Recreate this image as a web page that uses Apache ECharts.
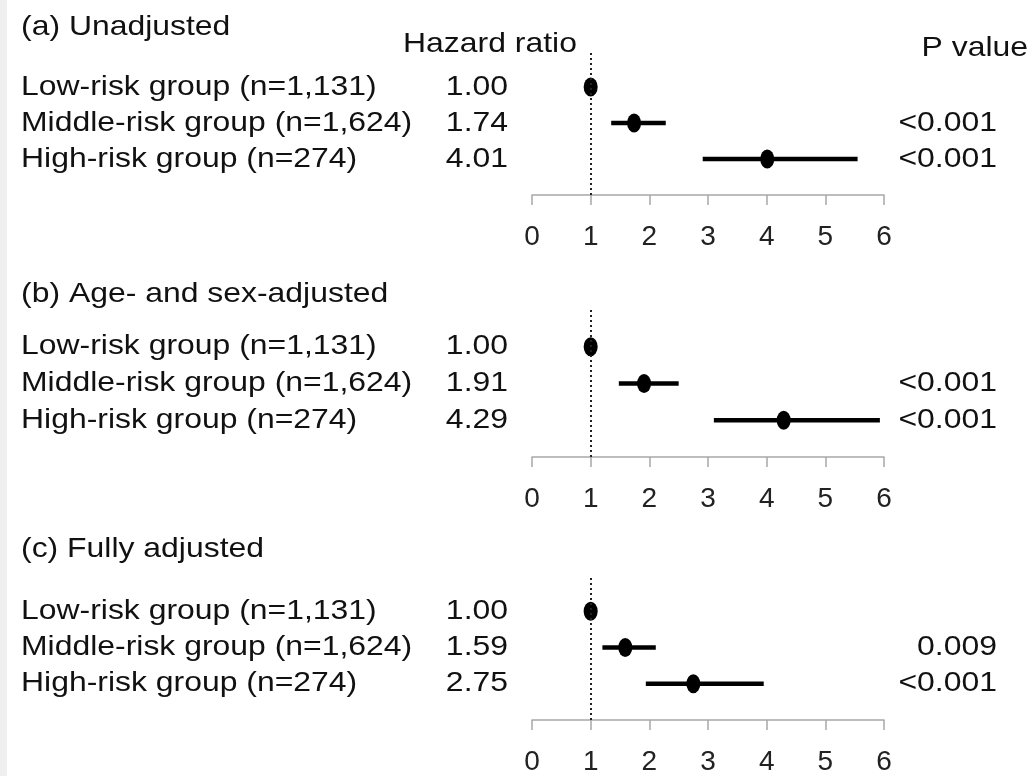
<!DOCTYPE html>
<html>
<head>
<meta charset="utf-8">
<script src="https://cdn.jsdelivr.net/npm/echarts@6/dist/echarts.min.js"></script>
<style>
  html, body { margin: 0; padding: 0; background: #ffffff; }
  #chart { width: 1035px; height: 776px; }
</style>
</head>
<body>
<div id="chart"></div>
<script>
// Risk groups shown in every panel (top to bottom)
const groupNames = ['Low-risk group (n=1,131)', 'Middle-risk group (n=1,624)', 'High-risk group (n=274)'];
const panelTitles = ['(a) Unadjusted', '(b) Age- and sex-adjusted', '(c) Fully adjusted'];
const xTicks = [0, 1, 2, 3, 4, 5, 6];

// (a) Unadjusted
const hrUnadjusted = [1.00, 1.74, 4.01];
const ciLowUnadjusted = [null, 1.35, 2.91];
const ciHighUnadjusted = [null, 2.28, 5.55];
const pUnadjusted = ['', '<0.001', '<0.001'];

// (b) Age- and sex-adjusted
const hrAgeSex = [1.00, 1.91, 4.29];
const ciLowAgeSex = [null, 1.48, 3.10];
const ciHighAgeSex = [null, 2.50, 5.93];
const pAgeSex = ['', '<0.001', '<0.001'];

// (c) Fully adjusted
const hrFull = [1.00, 1.59, 2.75];
const ciLowFull = [null, 1.20, 1.94];
const ciHighFull = [null, 2.11, 3.95];
const pFull = ['', '0.009', '<0.001'];

const panels = [
  { hr: hrUnadjusted, lo: ciLowUnadjusted, hi: ciHighUnadjusted, p: pUnadjusted },
  { hr: hrAgeSex, lo: ciLowAgeSex, hi: ciHighAgeSex, p: pAgeSex },
  { hr: hrFull, lo: ciLowFull, hi: ciHighFull, p: pFull }
];

// Layout
const panelTop = [51, 310, 575];
const panelHeight = [144, 147, 148];
const titleY = [27, 294, 549];
const nameX = 21, hrX = 508, pX = 997;
const FONT = '28px "Liberation Sans", Arial, sans-serif';
const STRETCH = 1.14;
const TEXT = '#111';

// row position on the vertical scale: first group at the top
const rowOf = k => groupNames.length - k;

const chart = echarts.init(document.getElementById('chart'), null, { renderer: 'canvas' });

const grid = [], xAxis = [], yAxis = [], series = [];

panels.forEach((pn, i) => {
  grid.push({ left: 532, width: 352, top: panelTop[i], height: panelHeight[i] });
  xAxis.push({
    gridIndex: i, type: 'value', position: 'bottom',
    min: xTicks[0], max: xTicks[xTicks.length - 1], interval: 1,
    axisLine: { show: true, onZero: false, lineStyle: { color: '#a8a8a8', width: 1.5 } },
    axisTick: { show: true, length: 10, lineStyle: { color: '#a8a8a8', width: 1.5 } },
    axisLabel: { show: true, margin: 28, color: '#222', fontSize: 28, fontFamily: '"Liberation Sans", Arial, sans-serif' },
    splitLine: { show: false }
  });
  yAxis.push({
    gridIndex: i, type: 'value', min: 0, max: 4, show: false,
    splitLine: { show: false }
  });

  // confidence intervals
  const ciData = [];
  pn.hr.forEach((v, k) => { if (pn.lo[k] != null) ciData.push([pn.lo[k], pn.hi[k], rowOf(k)]); });
  series.push({
    type: 'custom', xAxisIndex: i, yAxisIndex: i, clip: false, silent: true,
    data: ciData,
    renderItem: (params, api) => {
      const a = api.coord([api.value(0), api.value(2)]);
      const b = api.coord([api.value(1), api.value(2)]);
      return { type: 'line', shape: { x1: a[0], y1: a[1], x2: b[0], y2: b[1] },
               style: { stroke: '#000', lineWidth: 4.5 } };
    },
    z: 3
  });

  // point estimates with the reference line at HR = 1
  series.push({
    type: 'scatter', xAxisIndex: i, yAxisIndex: i, silent: true,
    data: pn.hr.map((v, k) => [v, rowOf(k)]),
    symbol: 'circle', symbolSize: [14, 19],
    itemStyle: { color: '#000', opacity: 1 },
    markLine: {
      silent: true, symbol: 'none', label: { show: false },
      lineStyle: { type: [2, 3], color: '#222', width: 2 },
      data: [{ xAxis: 1 }]
    },
    z: 4
  });

  // row labels: group name, hazard ratio and P value
  series.push({
    type: 'custom', xAxisIndex: i, yAxisIndex: i, clip: false, silent: true,
    data: pn.hr.map((v, k) => [0, rowOf(k), k]),
    renderItem: (params, api) => {
      const k = api.value(2);
      const y = api.coord([0, api.value(1)])[1];
      const mk = (x, text, align) => ({
        type: 'text', x: x, y: y, scaleX: STRETCH,
        style: { text: text, font: FONT, fill: TEXT, align: align, verticalAlign: 'middle' }
      });
      return { type: 'group', children: [
        mk(nameX, groupNames[k], 'left'),
        mk(hrX, pn.hr[k].toFixed(2), 'right'),
        mk(pX, pn.p[k], 'right')
      ] };
    },
    z: 5
  });
});

const graphic = [
  { type: 'rect', left: 0, top: 0, shape: { width: 7, height: 776 }, style: { fill: '#efefef' }, silent: true }
];
panelTitles.forEach((t, i) => {
  graphic.push({ type: 'text', x: nameX, y: titleY[i], scaleX: STRETCH, silent: true,
    style: { text: t, font: FONT, fill: TEXT, align: 'left', verticalAlign: 'middle' } });
});
graphic.push({ type: 'text', x: 490, y: 44, scaleX: STRETCH, silent: true,
  style: { text: 'Hazard ratio', font: FONT, fill: TEXT, align: 'center', verticalAlign: 'middle' } });
graphic.push({ type: 'text', x: 1028, y: 48, scaleX: STRETCH, silent: true,
  style: { text: 'P value', font: FONT, fill: TEXT, align: 'right', verticalAlign: 'middle' } });

chart.setOption({
  animation: false,
  backgroundColor: '#ffffff',
  grid: grid, xAxis: xAxis, yAxis: yAxis, series: series,
  graphic: graphic
});
</script>
</body>
</html>
